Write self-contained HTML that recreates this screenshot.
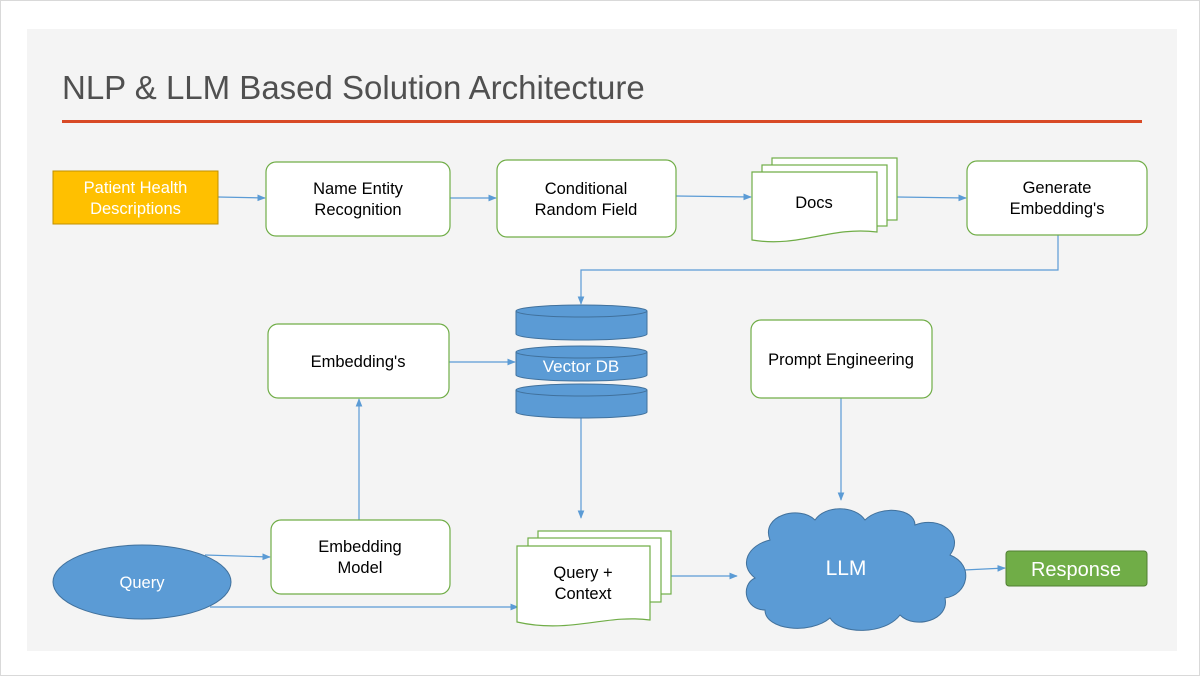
<!DOCTYPE html>
<html><head><meta charset="utf-8"><style>
body{margin:0;background:#fff;}
svg{display:block;font-family:"Liberation Sans",sans-serif;}
</style></head><body>
<svg width="1200" height="676" viewBox="0 0 1200 676" xmlns="http://www.w3.org/2000/svg">
<defs>
<marker id="a" viewBox="0 0 10 10" refX="9" refY="5" markerWidth="7" markerHeight="7" orient="auto"><path d="M0,1 L10,5 L0,9 z" fill="#5b9bd5"/></marker>
</defs>
<rect x="0" y="0" width="1200" height="676" fill="#fff"/>
<rect x="0.5" y="0.5" width="1199" height="675" fill="none" stroke="#d9d9d9"/>
<rect x="27" y="29" width="1150" height="622" fill="#f4f4f4"/>
<text x="62" y="99" font-size="33" fill="#505050">NLP &amp; LLM Based Solution Architecture</text>
<rect x="62" y="120" width="1080" height="3" fill="#d84a26"/>

<g stroke="#5b9bd5" stroke-width="1.2" fill="none" marker-end="url(#a)">
<line x1="218" y1="197" x2="265" y2="198"/>
<line x1="450" y1="198" x2="496" y2="198"/>
<line x1="676" y1="196" x2="751" y2="197"/>
<line x1="897" y1="197" x2="966" y2="198"/>
<polyline points="1058,235 1058,270 581,270 581,304"/>
<line x1="449" y1="362" x2="515" y2="362"/>
<line x1="581" y1="418" x2="581" y2="518"/>
<line x1="359" y1="520" x2="359" y2="399"/>
<line x1="205" y1="555" x2="270" y2="557"/>
<line x1="210" y1="607" x2="518" y2="607"/>
<line x1="671" y1="576" x2="737" y2="576"/>
<line x1="841" y1="398" x2="841" y2="500"/>
<line x1="964" y1="570" x2="1005" y2="568"/>
</g>

<rect x="53" y="171" width="165" height="53" fill="#ffc000" stroke="#c09000"/>
<text x="135.5" y="193" font-size="16.5" fill="#fff" text-anchor="middle">Patient Health</text>
<text x="135.5" y="214" font-size="16.5" fill="#fff" text-anchor="middle">Descriptions</text>

<g fill="#fff" stroke="#70ad47" stroke-width="1.2">
<rect x="266" y="162" width="184" height="74" rx="10"/>
<rect x="497" y="160" width="179" height="77" rx="10"/>
<rect x="967" y="161" width="180" height="74" rx="10"/>
<rect x="268" y="324" width="181" height="74" rx="10"/>
<rect x="751" y="320" width="181" height="78" rx="10"/>
<rect x="271" y="520" width="179" height="74" rx="10"/>
<rect x="772" y="158" width="125" height="62"/>
<rect x="762" y="165" width="125" height="61"/>
<path d="M752,172 H877 V232 C830,226 800,248 752,240 Z"/>
<rect x="538" y="531" width="133" height="63"/>
<rect x="528" y="538" width="133" height="64"/>
<path d="M517,546 H650 V620 C605,614 570,634 517,622 Z"/>
</g>
<g font-size="16.5" fill="#000" text-anchor="middle">
<text x="358" y="194">Name Entity</text><text x="358" y="215">Recognition</text>
<text x="586" y="194">Conditional</text><text x="586" y="215">Random Field</text>
<text x="814" y="208">Docs</text>
<text x="1057" y="193">Generate</text><text x="1057" y="214">Embedding's</text>
<text x="358" y="367">Embedding's</text>
<text x="841" y="365">Prompt Engineering</text>
<text x="360" y="552">Embedding</text><text x="360" y="573">Model</text>
<text x="583" y="578">Query +</text><text x="583" y="599">Context</text>
</g>

<g fill="#5b9bd5" stroke="#41719c" stroke-width="1">
<path d="M516,311 V334 A65.5,6 0 0 0 647,334 V311"/>
<ellipse cx="581.5" cy="311" rx="65.5" ry="6"/>
<path d="M516,352 V375 A65.5,6 0 0 0 647,375 V352"/>
<ellipse cx="581.5" cy="352" rx="65.5" ry="6"/>
<path d="M516,390 V412 A65.5,6 0 0 0 647,412 V390"/>
<ellipse cx="581.5" cy="390" rx="65.5" ry="6"/>
</g>
<text x="581" y="372" font-size="17" fill="#fff" text-anchor="middle">Vector DB</text>

<ellipse cx="142" cy="582" rx="89" ry="37" fill="#5b9bd5" stroke="#41719c"/>
<text x="142" y="588" font-size="16.5" fill="#fff" text-anchor="middle">Query</text>

<g fill="#5b9bd5" stroke="#41719c" stroke-width="1">
<path d="M770,540 C760,515 800,505 815,520 C825,505 855,505 865,520 C880,505 915,508 915,525 C940,515 965,535 950,555 C975,565 968,595 945,598 C950,620 915,630 900,615 C885,635 840,635 830,618 C810,635 765,630 765,610 C745,610 740,585 755,578 C738,565 748,545 770,540 Z"/>
</g>
<text x="846" y="575" font-size="21" fill="#fff" text-anchor="middle">LLM</text>

<rect x="1006" y="551" width="141" height="35" rx="3" fill="#70ad47" stroke="#507e32"/>
<text x="1076" y="576" font-size="20" fill="#fff" text-anchor="middle">Response</text>
</svg>
</body></html>
